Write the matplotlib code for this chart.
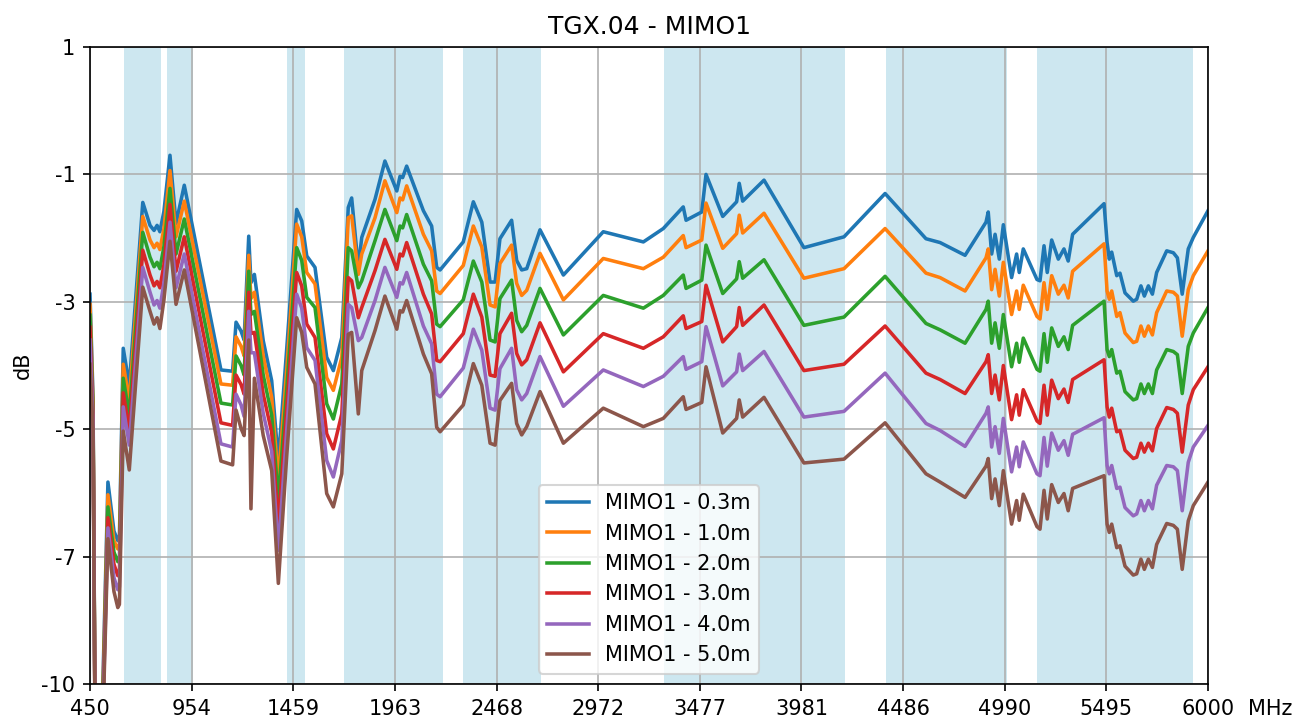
import matplotlib
matplotlib.use("Agg")
import matplotlib.pyplot as plt
import numpy as np

# frequency points (MHz)
freq = [450, 465, 482, 502, 539, 569, 588, 596, 615, 645, 712, 748, 768, 783, 797, 817,
        847, 877, 918, 1100, 1158, 1175, 1200, 1215, 1238, 1249, 1266, 1310, 1352, 1385,
        1427, 1476, 1501, 1526, 1567, 1625, 1658, 1700, 1732, 1749, 1782, 1799, 1865,
        1914, 1973, 1989, 2002, 2022, 2105, 2146, 2171, 2188, 2303, 2353, 2395, 2436,
        2461, 2485, 2543, 2568, 2593, 2618, 2684, 2800, 2998, 3197, 3296, 3395, 3409,
        3487, 3508, 3591, 3660, 3673, 3690, 3796, 3994, 4193, 4397, 4600, 4670, 4794,
        4898, 4909, 4926, 4943, 4964, 4984, 5025, 5050, 5063, 5083, 5151, 5166, 5186,
        5202, 5224, 5257, 5285, 5306, 5328, 5484, 5499, 5510, 5522, 5547, 5563, 5588,
        5629, 5646, 5667, 5684, 5704, 5724, 5745, 5795, 5828, 5848, 5872, 5902, 5927, 6000]

mimo_03 = [-2.88, -4.50, -13, -10.5, -5.83, -6.60, -6.75, -6.70, -3.73, -4.31, -1.44, -1.80,
           -1.88, -1.80, -1.90, -1.58, -0.70, -1.77, -1.17, -4.07, -4.09, -3.32, -3.46, -3.60,
           -1.97, -2.70, -2.57, -3.61, -4.24, -5.50, -3.72, -1.55, -1.73, -2.28, -2.46, -3.87,
           -4.08, -3.56, -1.52, -1.37, -2.46, -1.99, -1.39, -0.79, -1.26, -1.03, -1.05, -0.87,
           -1.57, -1.81, -2.46, -2.50, -2.06, -1.43, -1.75, -2.69, -2.69, -2.01, -1.72, -2.35,
           -2.50, -2.48, -1.87, -2.58, -1.90, -2.06, -1.85, -1.51, -1.72, -1.59, -1.00, -1.66,
           -1.43, -1.14, -1.42, -1.09, -2.15, -1.98, -1.30, -2.01, -2.07, -2.27, -1.75, -1.59,
           -2.25, -1.94, -2.33, -1.79, -2.62, -2.25, -2.54, -2.17, -2.65, -2.67, -2.12, -2.54,
           -2.03, -2.33, -2.17, -2.36, -1.94, -1.46, -2.07, -2.33, -2.22, -2.59, -2.55, -2.86,
           -2.99, -2.96, -2.75, -2.91, -2.75, -2.88, -2.54, -2.20, -2.23, -2.31, -2.88, -2.17,
           -1.99, -1.57]

mimo_10 = [-3.04, -4.60, -13, -10.6, -6.03, -6.75, -6.88, -6.85, -3.98, -4.55, -1.66, -2.03,
           -2.15, -2.08, -2.18, -1.85, -0.94, -1.98, -1.42, -4.29, -4.31, -3.55, -3.70, -3.85,
           -2.27, -2.95, -2.85, -3.85, -4.50, -5.80, -4.05, -1.78, -1.98, -2.54, -2.72, -4.19,
           -4.39, -3.87, -1.68, -1.65, -2.57, -2.25, -1.68, -1.10, -1.60, -1.37, -1.40, -1.18,
           -1.94, -2.20, -2.83, -2.87, -2.43, -1.81, -2.14, -3.05, -3.08, -2.40, -2.11, -2.71,
           -2.90, -2.82, -2.24, -2.97, -2.32, -2.48, -2.30, -1.96, -2.15, -2.03, -1.45, -2.16,
           -1.93, -1.64, -1.92, -1.61, -2.63, -2.48, -1.85, -2.55, -2.62, -2.83, -2.31, -2.17,
           -2.81, -2.49, -2.91, -2.38, -3.20, -2.83, -3.12, -2.74, -3.23, -3.27, -2.70, -3.12,
           -2.59, -2.88, -2.74, -2.94, -2.52, -2.09, -2.83, -2.96, -2.83, -3.23, -3.17, -3.49,
           -3.64, -3.62, -3.38, -3.54, -3.38, -3.52, -3.17, -2.83, -2.85, -2.91, -3.54, -2.81,
           -2.59, -2.20]

mimo_20 = [-3.21, -4.70, -13, -10.7, -6.22, -6.93, -7.08, -7.05, -4.20, -4.78, -1.91, -2.30,
           -2.45, -2.38, -2.48, -2.13, -1.22, -2.25, -1.70, -4.59, -4.62, -3.85, -4.00, -4.15,
           -2.52, -3.20, -3.15, -4.15, -4.78, -6.10, -4.35, -2.15, -2.35, -2.93, -3.09, -4.60,
           -4.84, -4.29, -2.15, -2.20, -2.78, -2.67, -2.04, -1.55, -2.04, -1.81, -1.84, -1.63,
           -2.41, -2.67, -3.35, -3.39, -2.97, -2.36, -2.69, -3.60, -3.63, -2.95, -2.66, -3.29,
           -3.47, -3.37, -2.79, -3.52, -2.90, -3.10, -2.90, -2.58, -2.79, -2.66, -2.11, -2.87,
           -2.64, -2.37, -2.63, -2.34, -3.37, -3.24, -2.60, -3.34, -3.44, -3.65, -3.12, -2.99,
           -3.65, -3.33, -3.73, -3.20, -4.02, -3.65, -3.95, -3.57, -4.06, -4.09, -3.50, -3.95,
           -3.41, -3.70, -3.55, -3.75, -3.37, -2.99, -3.75, -3.86, -3.75, -4.12, -4.09, -4.41,
           -4.54, -4.52, -4.29, -4.44, -4.29, -4.44, -4.07, -3.75, -3.78, -3.83, -4.44, -3.70,
           -3.49, -3.09]

mimo_30 = [-3.40, -4.80, -13, -10.8, -6.39, -7.12, -7.30, -7.25, -4.43, -5.02, -2.19, -2.58,
           -2.75, -2.68, -2.78, -2.42, -1.47, -2.52, -1.98, -4.90, -4.94, -4.15, -4.30, -4.45,
           -2.85, -3.50, -3.48, -4.45, -5.05, -6.50, -4.65, -2.54, -2.75, -3.35, -3.56, -5.07,
           -5.31, -4.76, -2.62, -2.67, -3.25, -3.09, -2.51, -2.02, -2.49, -2.25, -2.28, -2.07,
           -2.88, -3.19, -3.92, -3.94, -3.50, -2.88, -3.24, -4.15, -4.17, -3.50, -3.18, -3.81,
           -3.99, -3.91, -3.33, -4.10, -3.50, -3.73, -3.55, -3.22, -3.42, -3.31, -2.74, -3.63,
           -3.39, -3.09, -3.37, -3.05, -4.08, -3.98, -3.38, -4.12, -4.22, -4.44, -3.94, -3.83,
           -4.44, -4.15, -4.54, -4.00, -4.85, -4.46, -4.78, -4.38, -4.87, -4.91, -4.31, -4.78,
           -4.23, -4.52, -4.37, -4.58, -4.22, -3.91, -4.65, -4.81, -4.67, -5.04, -5.02, -5.33,
           -5.46, -5.44, -5.22, -5.36, -5.22, -5.34, -4.99, -4.66, -4.69, -4.75, -5.36, -4.62,
           -4.38, -4.02]

mimo_40 = [-3.60, -4.90, -13, -10.9, -6.55, -7.33, -7.52, -7.48, -4.65, -5.25, -2.46, -2.85,
           -3.05, -2.98, -3.10, -2.70, -1.75, -2.78, -2.25, -5.23, -5.28, -4.45, -4.62, -4.80,
           -3.15, -3.80, -3.80, -4.75, -5.35, -6.90, -5.00, -2.88, -3.10, -3.72, -3.92, -5.49,
           -5.75, -5.18, -3.04, -3.09, -3.61, -3.56, -2.98, -2.46, -2.93, -2.70, -2.72, -2.54,
           -3.38, -3.66, -4.45, -4.49, -4.04, -3.43, -3.76, -4.67, -4.70, -4.05, -3.73, -4.38,
           -4.54, -4.44, -3.86, -4.64, -4.07, -4.33, -4.17, -3.86, -4.06, -3.94, -3.39, -4.32,
           -4.10, -3.82, -4.08, -3.78, -4.81, -4.72, -4.12, -4.91, -5.02, -5.27, -4.75, -4.65,
           -5.28, -4.96, -5.38, -4.83, -5.67, -5.28, -5.59, -5.20, -5.70, -5.73, -5.13, -5.58,
           -5.06, -5.33, -5.18, -5.41, -5.08, -4.82, -5.57, -5.70, -5.57, -5.93, -5.91, -6.23,
           -6.36, -6.33, -6.12, -6.28, -6.12, -6.25, -5.88, -5.57, -5.59, -5.65, -6.28, -5.52,
           -5.28, -4.94]

mimo_50 = [-3.98, -5.00, -13, -11.0, -6.72, -7.55, -7.80, -7.75, -5.03, -5.64, -2.77, -3.15,
           -3.35, -3.25, -3.42, -2.97, -2.05, -3.04, -2.50, -5.50, -5.56, -4.70, -4.99, -5.10,
           -3.60, -6.25, -4.20, -5.10, -5.65, -7.42, -5.40, -3.25, -3.48, -4.03, -4.29, -6.01,
           -6.22, -5.70, -3.51, -3.48, -4.76, -4.08, -3.45, -2.91, -3.43, -3.14, -3.16, -2.98,
           -3.82, -4.13, -4.97, -5.04, -4.62, -3.97, -4.31, -5.22, -5.25, -4.55, -4.28, -4.91,
           -5.09, -4.96, -4.41, -5.22, -4.67, -4.96, -4.83, -4.49, -4.69, -4.58, -4.02, -5.06,
           -4.83, -4.54, -4.81, -4.50, -5.53, -5.47, -4.90, -5.70, -5.83, -6.07, -5.58, -5.46,
           -6.09, -5.78, -6.20, -5.65, -6.49, -6.12, -6.43, -6.02, -6.53, -6.57, -5.96, -6.41,
           -5.87, -6.15, -6.01, -6.28, -5.93, -5.73, -6.49, -6.62, -6.49, -6.86, -6.83, -7.15,
           -7.29, -7.27, -7.04, -7.20, -7.04, -7.17, -6.81, -6.48, -6.51, -6.57, -7.20, -6.44,
           -6.20, -5.83]

series = [mimo_03, mimo_10, mimo_20, mimo_30, mimo_40, mimo_50]
labels = ["MIMO1 - 0.3m", "MIMO1 - 1.0m", "MIMO1 - 2.0m",
          "MIMO1 - 3.0m", "MIMO1 - 4.0m", "MIMO1 - 5.0m"]

# shaded frequency bands (MHz)
band_lo = [617, 832, 1427, 1710, 2300, 3300, 4400, 5150]
band_hi = [803, 960, 1518, 2200, 2690, 4200, 5000, 5925]

xticks = np.linspace(450, 6000, 12)
yticks = [1, -1, -3, -5, -7, -9]
ytick_labels = ["1", "-1", "-3", "-5", "-7", "-10"]

fig = plt.figure(figsize=(8.7, 724 / 150), dpi=150)
ax = fig.add_subplot(111)
fig.subplots_adjust(left=90 / 1305, right=1208 / 1305, bottom=40 / 724, top=677 / 724)

for lo, hi in zip(band_lo, band_hi):
    ax.axvspan(lo, hi, color="lightblue", alpha=0.6, lw=0, zorder=0)

for vals, lab in zip(series, labels):
    ax.plot(freq, vals, label=lab, lw=1.7)

ax.set_xlim(450, 6000)
ax.set_ylim(-9, 1)
ax.set_xticks(xticks)
xlabels = [str(int(v)) for v in xticks]
ax.set_xticklabels(xlabels)
ax.set_yticks(yticks)
ax.set_yticklabels(ytick_labels)
ax.grid(True)

# unit written after the last tick label
ax.annotate("MHz", xy=(1, 0), xycoords="axes fraction", xytext=(19, -7),
            textcoords="offset points", ha="left", va="top")

ax.set_ylabel("dB")
ax.set_title("TGX.04 - MIMO1")
ax.legend(loc="lower center")

fig.savefig("out.png", dpi=150)
